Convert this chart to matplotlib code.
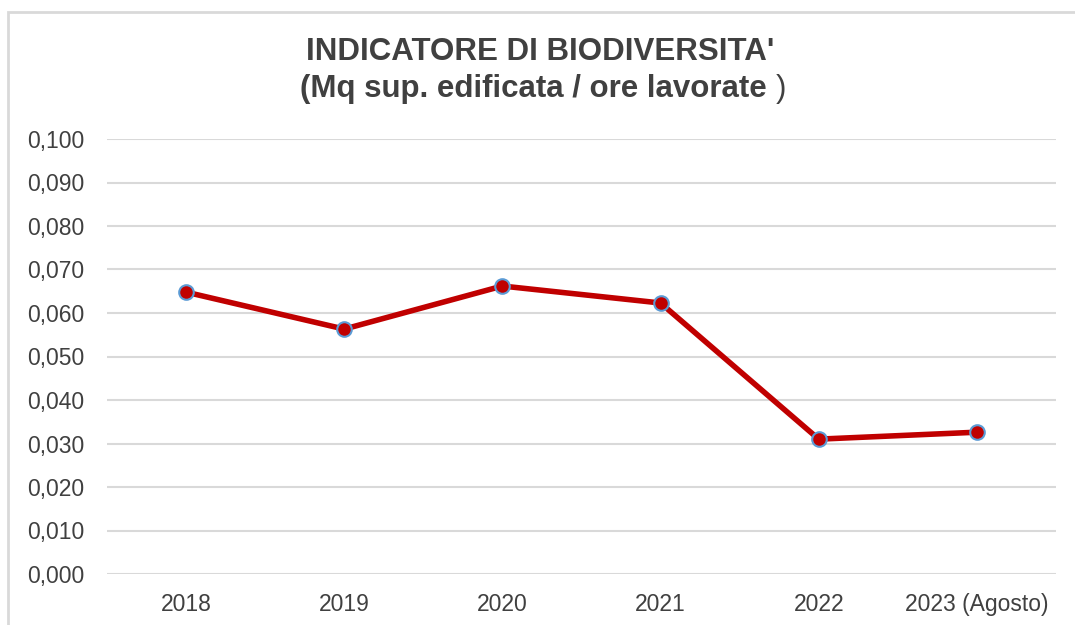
import matplotlib.pyplot as plt
from matplotlib.patches import Rectangle
from matplotlib.ticker import FuncFormatter

# Indicatore di biodiversità per anno
anni = ['2018', '2019', '2020', '2021', '2022', '2023 (Agosto)']
valori = [0.0648, 0.0563, 0.0662, 0.0623, 0.0310, 0.0326]
yticks = [0.0, 0.01, 0.02, 0.03, 0.04, 0.05, 0.06, 0.07, 0.08, 0.09, 0.10]

plt.rcParams['font.family'] = ['Liberation Sans', 'DejaVu Sans']

fig = plt.figure(figsize=(10.75, 6.25), dpi=100)
ax = fig.add_axes([0.0995, 0.0816, 0.8828, 0.696])

# cornice del grafico
fig.patches.append(Rectangle((8 / 1075, -0.05), 1.1, 1 - 12 / 625 + 0.05,
                             transform=fig.transFigure, fill=False,
                             edgecolor='#D9D9D9', lw=2, zorder=0))

x = range(len(anni))
ax.plot(x, valori, color='#C00000', lw=4, marker='o', markersize=10.5,
        markerfacecolor='#C00000', markeredgecolor='#5B9BD5',
        markeredgewidth=1.5, solid_capstyle='round', zorder=3)

ax.set_xlim(-0.5, len(anni) - 0.5)
ax.set_ylim(0, 0.1)
ax.set_yticks(yticks)
ax.yaxis.set_major_formatter(FuncFormatter(lambda v, p: f'{v:.3f}'.replace('.', ',')))
ax.set_xticks(list(x))
ax.set_xticklabels(anni)
ax.grid(axis='y', color='#D9D9D9', lw=1.5)
ax.set_axisbelow(True)
for s in ax.spines.values():
    s.set_visible(False)
ax.tick_params(axis='both', length=0, labelsize=16.5, labelcolor='#404040')
ax.tick_params(axis='y', pad=16)
ax.tick_params(axis='x', pad=14)

# titolo su due righe, parentesi finale non in grassetto
fig.text(540 / 1075, 1 - 52 / 625, "INDICATORE DI BIODIVERSITA'", ha='center', va='center',
         fontsize=22.5, fontweight='bold', color='#404040')
t2 = fig.text(538 / 1075, 1 - 89 / 625, '(Mq sup. edificata / ore lavorate ', ha='center', va='center',
              fontsize=22.5, fontweight='bold', color='#404040')
fig.canvas.draw()
bb = t2.get_window_extent()
fig.text(bb.x1 / 1075, 1 - 89 / 625, ')', ha='left', va='center',
         fontsize=22.5, color='#404040')

fig.savefig('out.png', dpi=100)
